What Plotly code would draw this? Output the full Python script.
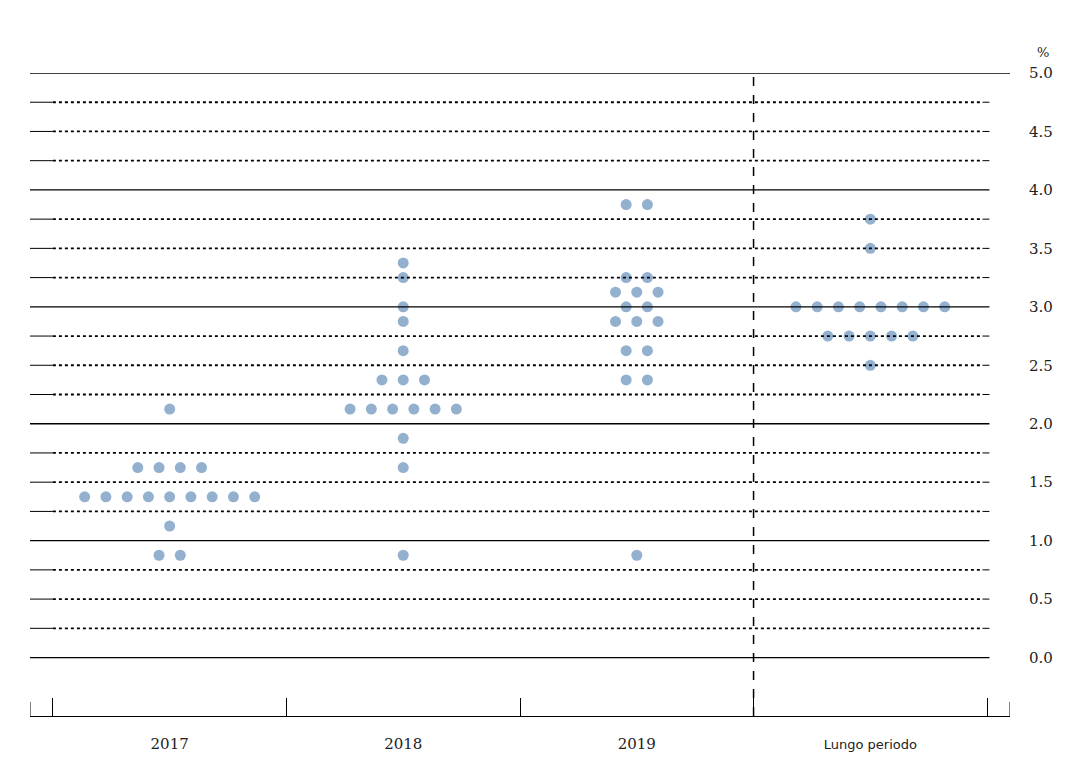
import plotly.graph_objects as go

# dot plot data: per period, rate levels and number of participants at each level
periods = ['2017', '2018', '2019', 'Lungo periodo']
levels_2017 = [2.125, 1.625, 1.375, 1.125, 0.875]
counts_2017 = [1, 4, 9, 1, 2]
levels_2018 = [3.375, 3.25, 3.0, 2.875, 2.625, 2.375, 2.125, 1.875, 1.625, 0.875]
counts_2018 = [1, 1, 1, 1, 1, 3, 6, 1, 1, 1]
levels_2019 = [3.875, 3.25, 3.125, 3.0, 2.875, 2.625, 2.375, 0.875]
counts_2019 = [2, 2, 3, 2, 3, 2, 2, 1]
levels_lr = [3.75, 3.5, 3.0, 2.75, 2.5]
counts_lr = [1, 1, 8, 5, 1]

y_ticks = [0.0, 0.5, 1.0, 1.5, 2.0, 2.5, 3.0, 3.5, 4.0, 4.5, 5.0]

groups = [(levels_2017, counts_2017), (levels_2018, counts_2018),
          (levels_2019, counts_2019), (levels_lr, counts_lr)]
step = 0.091
xs, ys = [], []
for gi, (levs, cnts) in enumerate(groups):
    for lv, n in zip(levs, cnts):
        for k in range(n):
            xs.append(gi + (k - (n - 1) / 2) * step)
            ys.append(lv)

fig = go.Figure()

XL, XR = -0.598, 3.598
shapes = []
for i in range(21):
    y = i * 0.25
    if i % 4 == 0:
        shapes.append(dict(type='line', x0=XL, x1=XR if i == 20 else 3.51, y0=y, y1=y,
                           line=dict(color='black', width=1.3)))
    else:
        shapes.append(dict(type='line', x0=-0.5, x1=3.48, y0=y, y1=y,
                           line=dict(color='black', width=1.8, dash='dot')))
        shapes.append(dict(type='line', x0=XL, x1=-0.5, y0=y, y1=y, line=dict(color='black', width=1)))
        shapes.append(dict(type='line', x0=3.48, x1=3.51, y0=y, y1=y, line=dict(color='black', width=1)))
shapes.append(dict(type='line', x0=2.5, x1=2.5, y0=-0.5, y1=5.0,
                   line=dict(color='black', width=1.5, dash='dash')))
shapes.append(dict(type='line', x0=XL, x1=XL, y0=-0.5, y1=-0.38, line=dict(color='black', width=1)))
shapes.append(dict(type='line', x0=XR, x1=XR, y0=-0.5, y1=-0.38, line=dict(color='black', width=1)))

fig.add_trace(go.Scatter(x=xs, y=ys, mode='markers',
                         marker=dict(size=11, color='#94b0cf'), hoverinfo='y'))

fig.update_layout(
    width=1056, height=752, showlegend=False,
    plot_bgcolor='white', paper_bgcolor='white',
    margin=dict(l=22, r=54, t=65, b=44, autoexpand=False),
    shapes=shapes,
    font=dict(family='DejaVu Serif, serif', size=15, color='#222'),
    xaxis=dict(range=[XL, XR], tickvals=[0, 1, 2, 3], automargin=False,
               ticktext=['2017', '2018', '2019',
                         '<span style="font-family:DejaVu Sans;font-size:13px">Lungo periodo</span>'],
               ticks='', showgrid=False, zeroline=False,
               showline=True, linecolor='black', linewidth=1, ticklabelstandoff=14,
               minor=dict(tickvals=[-0.5, 0.5, 1.5, 2.5, 3.5], ticks='inside',
                          ticklen=18, tickcolor='black', tickwidth=1)),
    yaxis=dict(range=[-0.5, 5.0], side='right', tickvals=y_ticks, automargin=False,
               ticktext=['%.1f' % v for v in y_ticks], ticks='', showgrid=False,
               zeroline=False, showline=False, ticklabelstandoff=18),
    annotations=[dict(text='%', xref='paper', yref='paper', x=1.025, y=1.0, yshift=30,
                      showarrow=False, xanchor='left', font=dict(size=13))],
)

fig.write_html('out.html')
